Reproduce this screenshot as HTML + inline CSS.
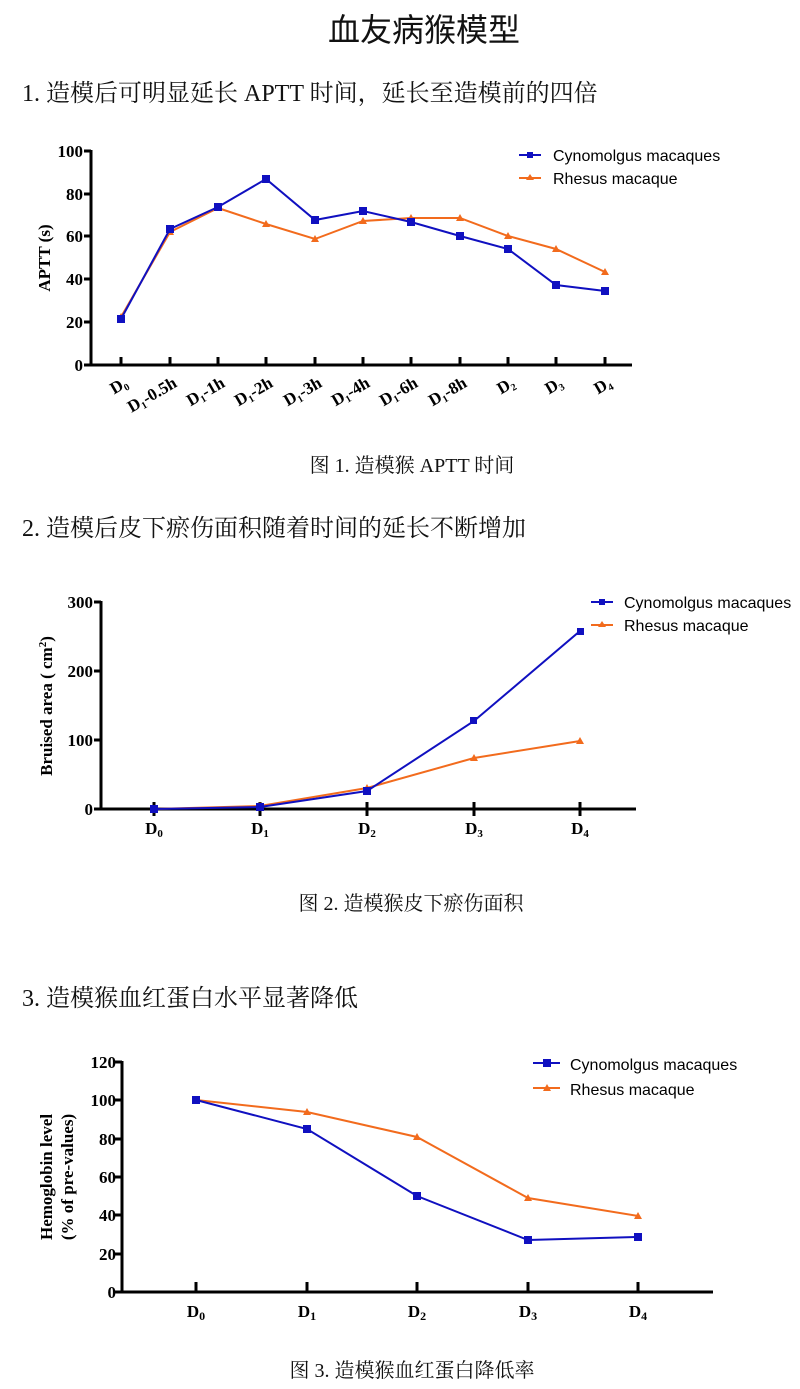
<!DOCTYPE html>
<html><head><meta charset="utf-8"><style>
body{margin:0;background:#fff;}
svg{display:block}
.cj{font-family:"Liberation Serif","Noto Serif CJK SC","Noto Sans CJK SC",serif;}
.t{font-family:"Liberation Serif",serif;font-weight:bold;font-size:17px;}
.lg{font-family:"Liberation Sans",sans-serif;font-size:16px;}
</style></head><body>
<svg width="800" height="1389" viewBox="0 0 800 1389" xmlns="http://www.w3.org/2000/svg">
<g class="cj" fill="#111">
<text x="424" y="41" font-size="32" text-anchor="middle" font-family="Liberation Sans, Noto Sans CJK SC, sans-serif">血友病猴模型</text>
<text x="22" y="101" font-size="24">1. 造模后可明显延长 APTT 时间，延长至造模前的四倍</text>
<text x="412" y="472" font-size="20" text-anchor="middle">图 1. 造模猴 APTT 时间</text>
<text x="22" y="536" font-size="24">2. 造模后皮下瘀伤面积随着时间的延长不断增加</text>
<text x="411" y="910" font-size="20" text-anchor="middle">图 2. 造模猴皮下瘀伤面积</text>
<text x="22" y="1006" font-size="24">3. 造模猴血红蛋白水平显著降低</text>
<text x="412" y="1377" font-size="20" text-anchor="middle">图 3. 造模猴血红蛋白降低率</text>
</g>

<!-- Chart 1 -->
<g stroke="#000" stroke-width="3" fill="none">
<path d="M91,150 V365 H632"/>
<path d="M84,151H91M84,194H91M84,236H91M84,279H91M84,322H91M84,365H91"/>
<path d="M121,365v-8M170,365v-8M218,365v-8M266,365v-8M315,365v-8M363,365v-8M411,365v-8M460,365v-8M508,365v-8M556,365v-8M605,365v-8"/>
</g>
<g class="t" text-anchor="end">
<text x="83" y="157">100</text><text x="83" y="200">80</text><text x="83" y="242">60</text><text x="83" y="285">40</text><text x="83" y="328">20</text><text x="83" y="371">0</text>
</g>
<text class="t" transform="translate(50,258) rotate(-90)" text-anchor="middle">APTT (s)</text>
<g class="t" font-size="15" text-anchor="end">
<text transform="translate(129,386) rotate(-30)">D<tspan font-size="10" dy="3">0</tspan></text>
<text transform="translate(178,386) rotate(-30)">D<tspan font-size="10" dy="3">1</tspan><tspan dy="-3">-0.5h</tspan></text>
<text transform="translate(226,386) rotate(-30)">D<tspan font-size="10" dy="3">1</tspan><tspan dy="-3">-1h</tspan></text>
<text transform="translate(274,386) rotate(-30)">D<tspan font-size="10" dy="3">1</tspan><tspan dy="-3">-2h</tspan></text>
<text transform="translate(323,386) rotate(-30)">D<tspan font-size="10" dy="3">1</tspan><tspan dy="-3">-3h</tspan></text>
<text transform="translate(371,386) rotate(-30)">D<tspan font-size="10" dy="3">1</tspan><tspan dy="-3">-4h</tspan></text>
<text transform="translate(419,386) rotate(-30)">D<tspan font-size="10" dy="3">1</tspan><tspan dy="-3">-6h</tspan></text>
<text transform="translate(468,386) rotate(-30)">D<tspan font-size="10" dy="3">1</tspan><tspan dy="-3">-8h</tspan></text>
<text transform="translate(516,386) rotate(-30)">D<tspan font-size="10" dy="3">2</tspan></text>
<text transform="translate(564,386) rotate(-30)">D<tspan font-size="10" dy="3">3</tspan></text>
<text transform="translate(613,386) rotate(-30)">D<tspan font-size="10" dy="3">4</tspan></text>
</g>
<polyline fill="none" stroke="#f26b1d" stroke-width="2" points="121,317 170,232 218,208 266,224 315,239 363,221 411,218 460,218 508,236 556,249 605,272"/>
<g fill="#f26b1d"><path d="M121,313l4,7h-8zM170,228l4,7h-8zM218,204l4,7h-8zM266,220l4,7h-8zM315,235l4,7h-8zM363,217l4,7h-8zM411,214l4,7h-8zM460,214l4,7h-8zM508,232l4,7h-8zM556,245l4,7h-8zM605,268l4,7h-8z"/></g>
<polyline fill="none" stroke="#1010c0" stroke-width="2" points="121,319 170,229 218,207 266,179 315,220 363,211 411,222 460,236 508,249 556,285 605,291"/>
<g fill="#1010c0"><rect x="117" y="315" width="8" height="8"/><rect x="166" y="225" width="8" height="8"/><rect x="214" y="203" width="8" height="8"/><rect x="262" y="175" width="8" height="8"/><rect x="311" y="216" width="8" height="8"/><rect x="359" y="207" width="8" height="8"/><rect x="407" y="218" width="8" height="8"/><rect x="456" y="232" width="8" height="8"/><rect x="504" y="245" width="8" height="8"/><rect x="552" y="281" width="8" height="8"/><rect x="601" y="287" width="8" height="8"/></g>
<line x1="519" y1="155" x2="541" y2="155" stroke="#1010c0" stroke-width="2"/><rect x="527" y="152" width="6" height="6" fill="#1010c0"/>
<line x1="519" y1="178" x2="541" y2="178" stroke="#f26b1d" stroke-width="2"/><path d="M530,174l4,6h-8z" fill="#f26b1d"/>
<text class="lg" x="553" y="161">Cynomolgus macaques</text>
<text class="lg" x="553" y="184">Rhesus macaque</text>

<!-- Chart 2 -->
<g stroke="#000" stroke-width="3" fill="none">
<path d="M101,601 V809 H636"/>
<path d="M94,602H101M94,671H101M94,740H101M94,809H101"/>
<path d="M154,802v14M260,802v14M367,802v14M474,802v14M580,802v14"/>
</g>
<g class="t" text-anchor="end">
<text x="93" y="608">300</text><text x="93" y="677">200</text><text x="93" y="746">100</text><text x="93" y="815">0</text>
</g>
<text class="t" font-size="16" transform="translate(52,706) rotate(-90)" text-anchor="middle">Bruised area ( cm<tspan font-size="11" dy="-6">2</tspan><tspan dy="6">)</tspan></text>
<g class="t" font-size="16" text-anchor="middle">
<text x="154" y="834">D<tspan font-size="11" dy="3">0</tspan></text>
<text x="260" y="834">D<tspan font-size="11" dy="3">1</tspan></text>
<text x="367" y="834">D<tspan font-size="11" dy="3">2</tspan></text>
<text x="474" y="834">D<tspan font-size="11" dy="3">3</tspan></text>
<text x="580" y="834">D<tspan font-size="11" dy="3">4</tspan></text>
</g>
<polyline fill="none" stroke="#f26b1d" stroke-width="2" points="154,809 260,806 367,788 474,758 580,741"/>
<g fill="#f26b1d"><path d="M260,802l4,7h-8zM367,784l4,7h-8zM474,754l4,7h-8zM580,737l4,7h-8z"/></g>
<polyline fill="none" stroke="#1010c0" stroke-width="2" points="154,809 260,807 367,791 474,721 580,631"/>
<g fill="#1010c0"><rect x="150" y="805" width="8" height="8"/><rect x="256" y="803" width="8" height="8"/><rect x="363" y="787" width="8" height="8"/><rect x="470" y="717" width="7" height="7"/><rect x="577" y="628" width="7" height="7"/></g>
<line x1="591" y1="602" x2="613" y2="602" stroke="#1010c0" stroke-width="2"/><rect x="599" y="599" width="6" height="6" fill="#1010c0"/>
<line x1="591" y1="625" x2="613" y2="625" stroke="#f26b1d" stroke-width="2"/><path d="M602,621l4,6h-8z" fill="#f26b1d"/>
<text class="lg" font-size="15.5" x="624" y="608">Cynomolgus macaques</text>
<text class="lg" font-size="15.5" x="624" y="631">Rhesus macaque</text>

<!-- Chart 3 -->
<g stroke="#000" stroke-width="3" fill="none">
<path d="M122,1061 V1292 H713"/>
<path d="M115,1062H122M115,1100H122M115,1139H122M115,1177H122M115,1215H122M115,1254H122M115,1292H122"/>
<path d="M196,1292v-10M307,1292v-10M417,1292v-10M528,1292v-10M638,1292v-10"/>
</g>
<g class="t" text-anchor="end" font-size="18">
<text x="116" y="1068">120</text><text x="116" y="1106">100</text><text x="116" y="1145">80</text><text x="116" y="1183">60</text><text x="116" y="1221">40</text><text x="116" y="1260">20</text><text x="116" y="1298">0</text>
</g>
<text class="t" transform="translate(52,1177) rotate(-90)" text-anchor="middle">Hemoglobin level</text>
<text class="t" transform="translate(73,1177) rotate(-90)" text-anchor="middle">(% of pre-values)</text>
<g class="t" font-size="18" text-anchor="middle">
<text x="196" y="1317">D<tspan font-size="12" dy="3">0</tspan></text>
<text x="307" y="1317">D<tspan font-size="12" dy="3">1</tspan></text>
<text x="417" y="1317">D<tspan font-size="12" dy="3">2</tspan></text>
<text x="528" y="1317">D<tspan font-size="12" dy="3">3</tspan></text>
<text x="638" y="1317">D<tspan font-size="12" dy="3">4</tspan></text>
</g>
<polyline fill="none" stroke="#f26b1d" stroke-width="2" points="196,1100 307,1112 417,1137 528,1198 638,1216"/>
<g fill="#f26b1d"><path d="M307,1108l4,7h-8zM417,1133l4,7h-8zM528,1194l4,7h-8zM638,1212l4,7h-8z"/></g>
<polyline fill="none" stroke="#1010c0" stroke-width="2" points="196,1100 307,1129 417,1196 528,1240 638,1237"/>
<g fill="#1010c0"><rect x="192" y="1096" width="8" height="8"/><rect x="303" y="1125" width="8" height="8"/><rect x="413" y="1192" width="8" height="8"/><rect x="524" y="1236" width="8" height="8"/><rect x="634" y="1233" width="8" height="8"/></g>
<line x1="533" y1="1063" x2="560" y2="1063" stroke="#1010c0" stroke-width="2"/><rect x="543" y="1059" width="8" height="8" fill="#1010c0"/>
<line x1="533" y1="1088" x2="560" y2="1088" stroke="#f26b1d" stroke-width="2"/><path d="M547,1084l4,7h-8z" fill="#f26b1d"/>
<text class="lg" font-size="18" x="570" y="1070">Cynomolgus macaques</text>
<text class="lg" font-size="18" x="570" y="1095">Rhesus macaque</text>
</svg>
</body></html>
